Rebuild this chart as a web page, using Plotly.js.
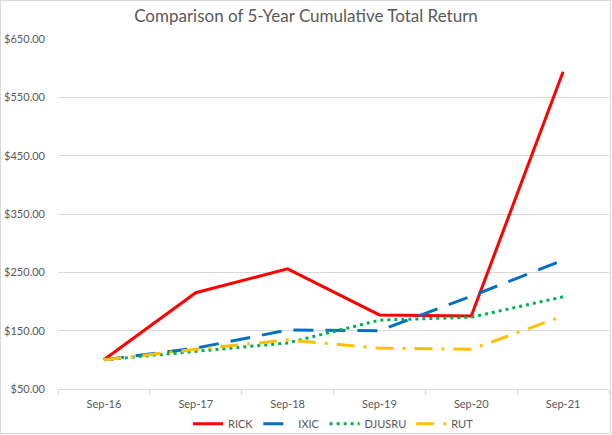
<!DOCTYPE html>
<html><head><meta charset="utf-8">
<script src="https://cdn.plot.ly/plotly-3.0.1.min.js"></script>
<style>html,body{margin:0;padding:0;background:#fff}#c{width:612px;height:435px;position:relative}
#frame{position:absolute;left:0;top:0;width:609px;height:432px;border:1px solid #d9d9d9;pointer-events:none}</style>
</head><body><div id="c"></div><div id="frame"></div>
<script>
const categories = ["Sep-16","Sep-17","Sep-18","Sep-19","Sep-20","Sep-21"];
const rick   = [100, 215, 256, 177, 175, 594];
const ixic   = [100, 120, 151, 150, 209, 271];
const djusru = [100, 115, 129, 168, 173, 208];
const rut    = [100, 118, 134, 120, 118, 175];
const yTicks = [50,150,250,350,450,550,650];
const yTickText = yTicks.map(v => '$' + v.toFixed(2));

const mk = (name, y, color, dash) => ({
  x: categories, y: y, name: name, type: 'scatter', mode: 'lines',
  line: {color: color, width: 3, dash: dash}
});
const data = [
  mk('RICK', rick, '#FF0000', 'solid'),
  mk('IXIC', ixic, '#0070C0', '20px,12px'),
  mk('DJUSRU', djusru, '#00B050', '3px,4px'),
  mk('RUT', rut, '#FFC000', '18px,9px,3px,9px')
];
const layout = {
  width: 612, height: 435,
  margin: {l: 58, r: 3, t: 39, b: 46, autoexpand: false},
  paper_bgcolor: '#fff', plot_bgcolor: '#fff',
  font: {family: 'Lato, "Open Sans", sans-serif', size: 11, color: '#595959'},
  title: {text: 'Comparison of 5-Year Cumulative Total Return', x: 0.5, xanchor: 'center', y: 0.962, yanchor: 'middle',
          font: {size: 17, color: '#595959', family: 'Lato, "Open Sans", sans-serif'}},
  xaxis: {type: 'category', range: [-0.5, 5.5], showgrid: false, showline: true, linecolor: '#d9d9d9', linewidth: 1,
          ticks: 'outside', tickson: 'boundaries', ticklen: 5, tickcolor: '#d9d9d9', zeroline: false,
          ticklabelstandoff: 5, tickfont: {size: 11, color: '#595959'}, fixedrange: true},
  yaxis: {range: [50, 650], tickmode: 'array', tickvals: yTicks, ticktext: yTickText, showgrid: true, gridcolor: '#d9d9d9',
          gridwidth: 1, zeroline: false, showline: false, ticks: '', ticklabelstandoff: 12,
          tickfont: {size: 11, color: '#595959'}, fixedrange: true},
  showlegend: true,
  legend: {orientation: 'h', x: 0.5, xanchor: 'center', y: -0.058, yanchor: 'top', font: {size: 11, color: '#595959'},
           itemwidth: 30, tracegroupgap: 0, bgcolor: 'rgba(0,0,0,0)'}
};
Plotly.newPlot('c', data, layout, {displayModeBar: false, staticPlot: true});
</script></body></html>
